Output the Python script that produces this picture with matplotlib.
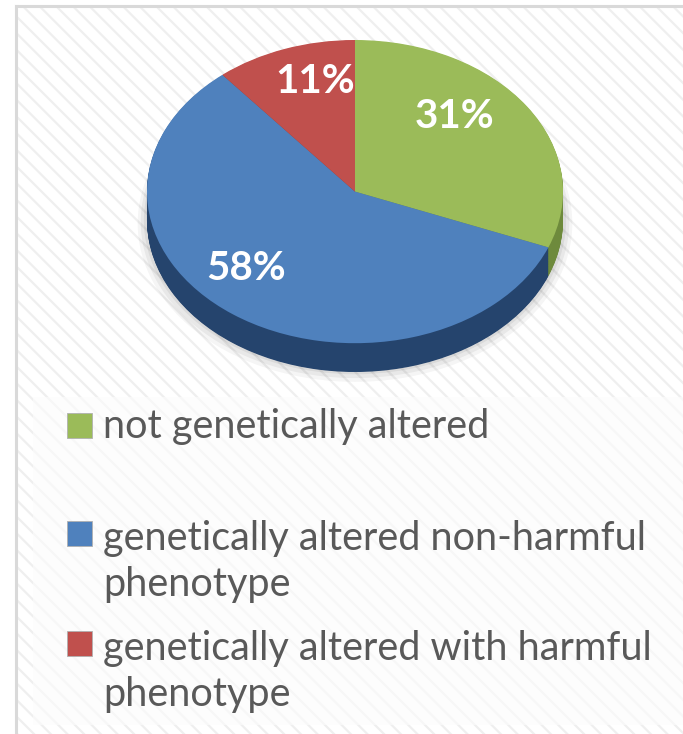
import numpy as np
import matplotlib.pyplot as plt
from matplotlib.patches import Rectangle

# data
labels = ["not genetically altered",
          "genetically altered non-harmful\nphenotype",
          "genetically altered with harmful\nphenotype"]
shares = [31, 58, 11]
top_colors = ["#9bbb59", "#4f81bd", "#c0504d"]
side_colors = ["#6e8a3c", "#25446d", "#8c3836"]

W, H = 683, 734
plt.rcParams['hatch.linewidth'] = 1.6
FONT = ["Lato", "DejaVu Sans"]

fig = plt.figure(figsize=(W / 100, H / 100), dpi=100)
fig.patch.set_facecolor("white")

def fig_box(x0, y0, x1, y1):
  # pixel box (top-left origin) -> figure fraction rect
  return [x0 / W, 1 - y1 / H, (x1 - x0) / W, (y1 - y0) / H]

# background panel with faint diagonal stripes
bg = fig.add_axes([0, 0, 1, 1])
bg.set_xlim(0, W)
bg.set_ylim(H, 0)
bg.axis("off")
bg.add_patch(Rectangle((17, 7), W - 17, H - 7, facecolor="white",
                       edgecolor="#efefef", hatch="\\\\", lw=0))
bg.add_patch(Rectangle((33, 397), W - 33, 328, facecolor="#fdfdfd",
                       edgecolor="#f7f7f7", hatch="\\\\", lw=0))
bg.plot([16, 16], [6, H], color="#d9d9d9", lw=2.2)
bg.plot([16, W], [6, 6], color="#d9d9d9", lw=2.2)

# tilted pie: squashed axes, stacked copies give the depth
depth = 0.19
ax = fig.add_axes(fig_box(147, 40, 563, 372))

for k, a in enumerate([0.06, 0.05, 0.04]):
  ax.pie([1], radius=1.0 + 0.015 * (k + 1), center=(0, -depth - 0.01 * k),
         colors=["#000000"], wedgeprops=dict(alpha=a, lw=0), frame=True)

n_layers = 40
for k in range(n_layers, 0, -1):
  ax.pie(shares, startangle=90, counterclock=False, colors=side_colors,
         center=(0, -depth * k / n_layers), wedgeprops=dict(lw=0), frame=True)

wedges, _, autotexts = ax.pie(
    shares, startangle=90, counterclock=False, colors=top_colors,
    autopct=lambda p: f"{p:.0f}%", pctdistance=0.72,
    wedgeprops=dict(lw=0), frame=True,
    textprops=dict(color="white", fontsize=29, fontweight="bold",
                   family=FONT))
# nudge labels round the rim the way the tilted original sits them
label_turn = [12, -10, -5]
label_dist = [0.69, 0.73, 0.75]
for w, t, turn, r in zip(wedges, autotexts, label_turn, label_dist):
  mid = np.deg2rad((w.theta1 + w.theta2) / 2 + turn)
  t.set_position((r * np.cos(mid), r * np.sin(mid)))
ax.set_aspect("auto")
ax.set_xlim(-1, 1)
ax.set_ylim(-1 - depth, 1)
ax.axis("off")

# legend drawn by hand so squares sit on the first line of each label
leg = fig.add_axes(fig_box(33, 397, W, 725))
leg.set_xlim(33, W)
leg.set_ylim(725, 397)
leg.axis("off")
square_y = [425.5, 533, 643]
text_top = [408, 520, 630]
for lab, col, sy, ty in zip(labels, top_colors, square_y, text_top):
  leg.add_patch(Rectangle((67, sy - 12.5), 25, 25, facecolor=col,
                          edgecolor="#b0b0b0", lw=0.6))
  leg.text(103, ty, lab, va="top", ha="left", fontsize=28.5,
           color="#595959", family=FONT, linespacing=1.3)

fig.savefig("out.png", dpi=100)
